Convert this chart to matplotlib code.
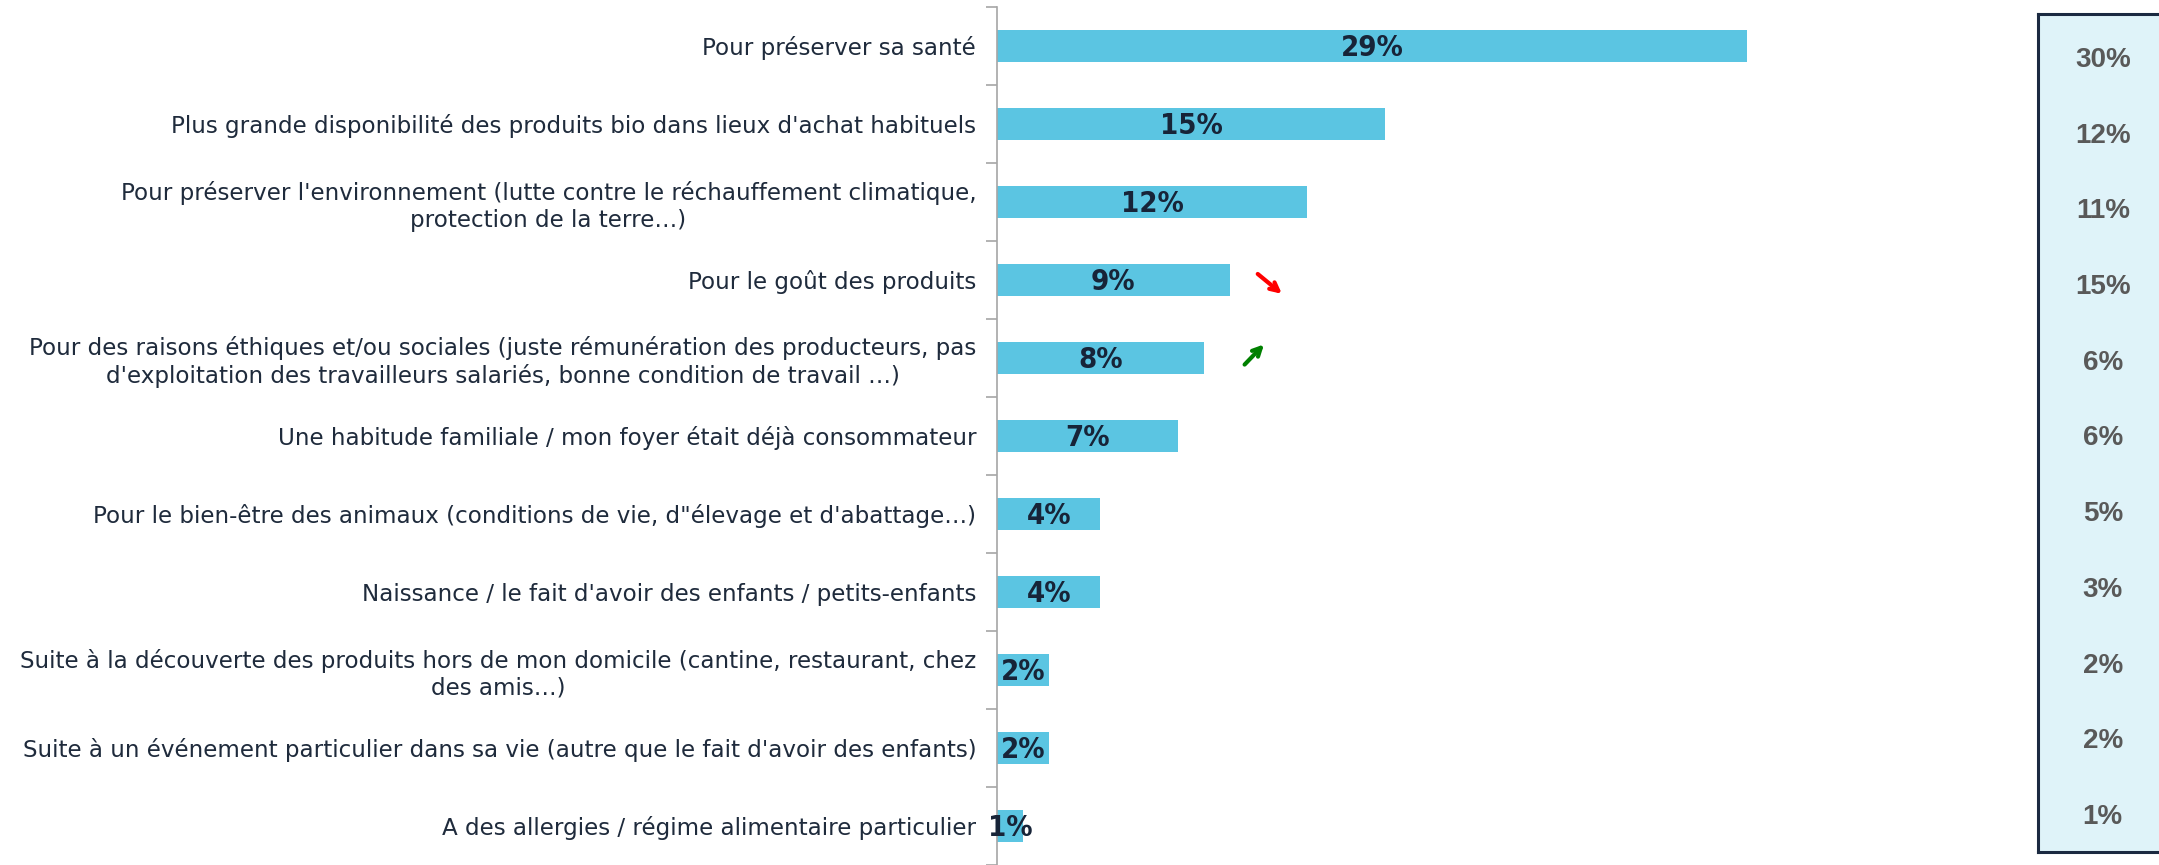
import matplotlib
matplotlib.use("Agg")
import matplotlib.pyplot as plt
import numpy as np

# raisons du passage au bio (vague actuelle)
categories = [
    "Pour préserver sa santé",
    "Plus grande disponibilité des produits bio dans lieux d'achat habituels",
    "Pour préserver l'environnement (lutte contre le réchauffement climatique,\nprotection de la terre…)",
    "Pour le goût des produits",
    "Pour des raisons éthiques et/ou sociales (juste rémunération des producteurs, pas\nd'exploitation des travailleurs salariés, bonne condition de travail …)",
    "Une habitude familiale / mon foyer était déjà consommateur",
    "Pour le bien-être des animaux (conditions de vie, d\"élevage et d'abattage…)",
    "Naissance / le fait d'avoir des enfants / petits-enfants",
    "Suite à la découverte des produits hors de mon domicile (cantine, restaurant, chez\ndes amis…)",
    "Suite à un événement particulier dans sa vie (autre que le fait d'avoir des enfants)",
    "A des allergies / régime alimentaire particulier",
]
values = [29, 15, 12, 9, 8, 7, 4, 4, 2, 2, 1]
# vague precedente (encadre de droite)
previous = [30, 12, 11, 15, 6, 6, 5, 3, 2, 2, 1]
# evolution significative
trend = [None, None, None, "down", "up", None, None, None, None, None, None]

bar_color = "#5BC5E2"
text_color = "#1F2B3C"
W, H = 2159, 865

fig = plt.figure(figsize=(W / 100, H / 100), dpi=100)
ax = fig.add_axes([997 / W, 0, 32 * 25.86 / W, (H - 7) / H])

y = np.arange(len(categories))
ax.barh(y, values, height=0.4, color=bar_color)
ax.set_xlim(0, 32)
ax.set_ylim(len(categories) - 0.5, -0.5)

for yi, v in zip(y, values):
    ax.text(v / 2, yi + 0.03, f"{v}%", ha="center", va="center", fontsize=21,
            fontweight="bold", fontstretch="condensed", color="#172438",
            family="DejaVu Sans")

for yi, v, t in zip(y, values, trend):
    if t == "down":
        ax.annotate("", xy=(v + 2.1, yi + 0.2), xytext=(v + 1.0, yi - 0.1),
                    arrowprops=dict(arrowstyle="->", color="#FF0000", lw=3,
                                    mutation_scale=15))
    elif t == "up":
        ax.annotate("", xy=(v + 2.4, yi - 0.2), xytext=(v + 1.5, yi + 0.11),
                    arrowprops=dict(arrowstyle="->", color="#008000", lw=3,
                                    mutation_scale=15))

ax.set_yticks(y)
ax.set_yticklabels(categories, fontsize=16.6, color=text_color, family="DejaVu Sans")
for lbl in ax.get_yticklabels():
    lbl.set_multialignment("center")
ax.tick_params(axis="y", which="major", length=0, pad=15)
ax.set_yticks(np.arange(-0.5, len(categories), 1), minor=True)
ax.tick_params(axis="y", which="minor", length=8, color="#A6A6A6", width=1.2)
ax.set_xticks([])
for s in ["top", "right", "bottom"]:
    ax.spines[s].set_visible(False)
ax.spines["left"].set_color("#A6A6A6")
ax.spines["left"].set_linewidth(1.2)

# encadre vague precedente
bx = fig.add_axes([2038 / W, 13 / H, 0.1, (852 - 14) / H])
bx.set_facecolor("#DFF3F9")
for s in bx.spines.values():
    s.set_color("#1B2A41")
    s.set_linewidth(2.2)
bx.set_xticks([])
bx.set_yticks([])
bx.set_xlim(0, 1)
bx.set_ylim(10 + 35 / 75.7, -46 / 75.7)
for i, p in enumerate(previous):
    bx.text(0.30, i, f"{p}%", ha="center", va="center", fontsize=20,
            fontweight="bold", color="#595959", family="Liberation Sans")

fig.savefig("out.png", dpi=100)
